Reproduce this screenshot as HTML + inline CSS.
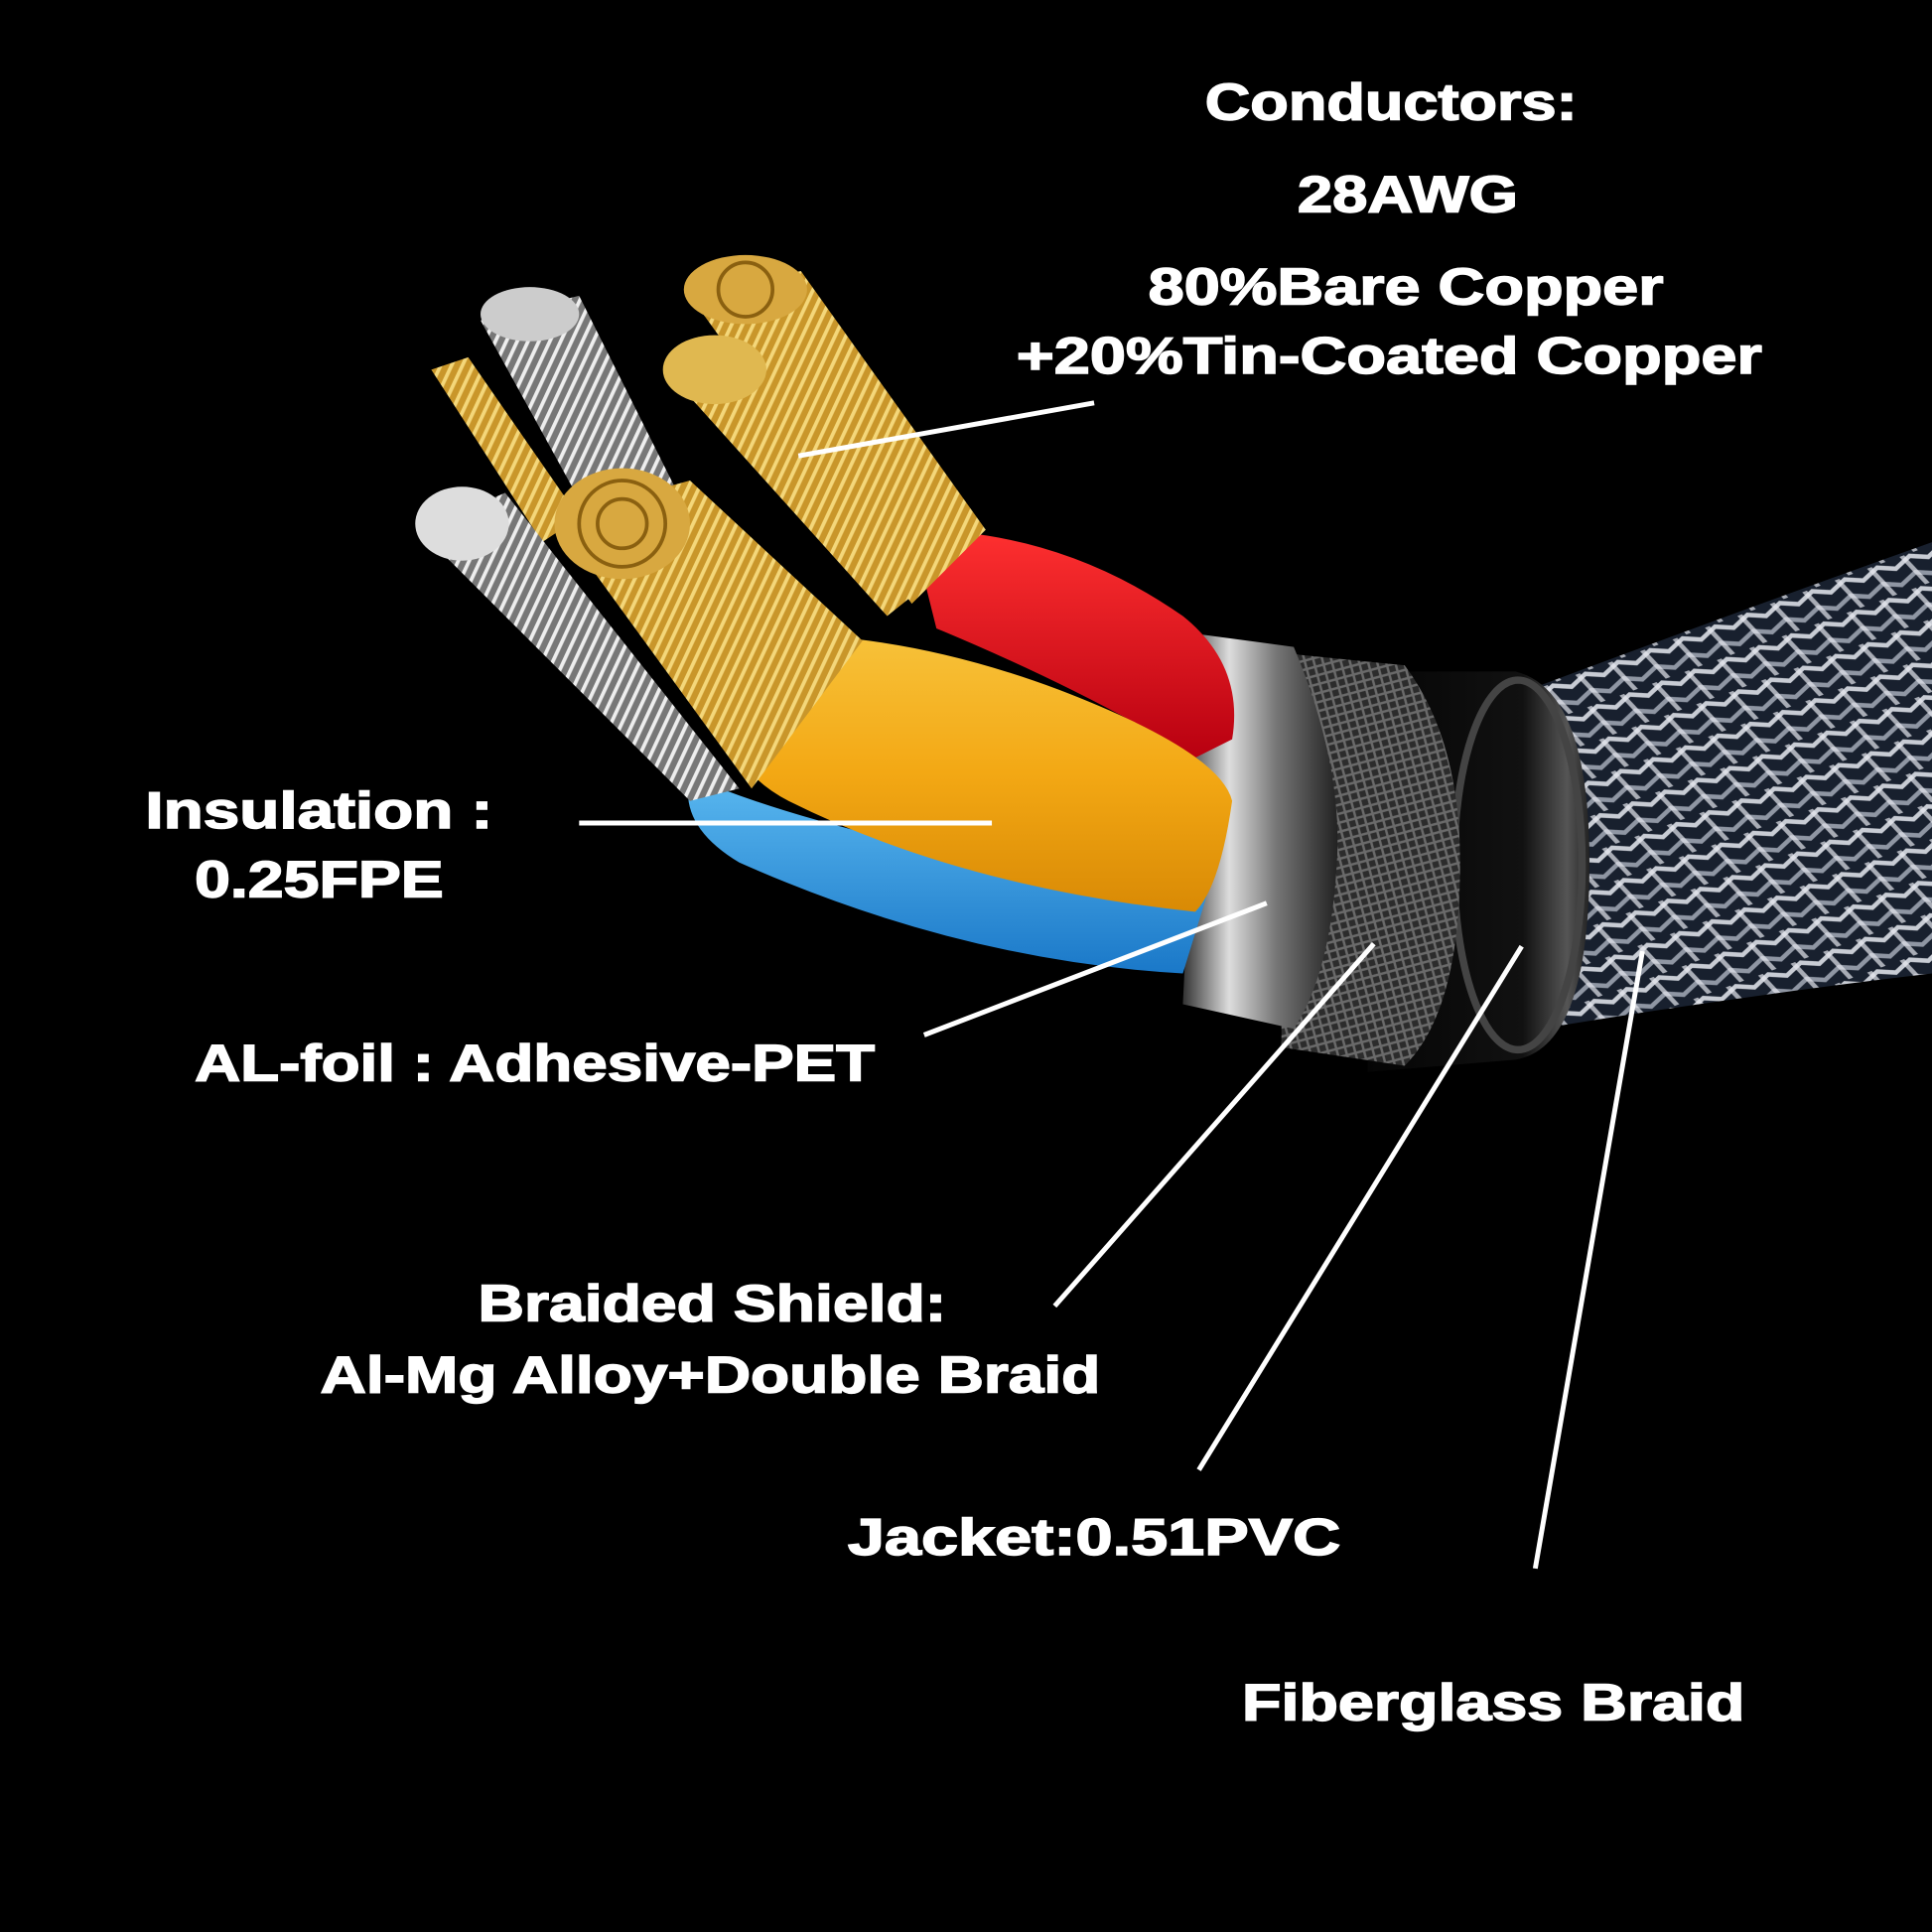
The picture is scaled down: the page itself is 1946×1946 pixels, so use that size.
<!DOCTYPE html>
<html><head><meta charset="utf-8"><style>
html,body{margin:0;padding:0;background:#000;}
svg{display:block;}
text{font-family:"Liberation Sans",Arial,sans-serif;font-weight:bold;fill:#fff;stroke:#fff;stroke-width:1.2px;}
</style></head><body>
<svg width="1946" height="1946" viewBox="0 0 1568 1568" xmlns="http://www.w3.org/2000/svg">
<defs>
<pattern id="braid" width="28" height="28" patternUnits="userSpaceOnUse" patternTransform="rotate(-20)">
<rect width="28" height="28" fill="#18202e"/>
<path d="M0 6 L14 0 L28 6 L28 10 L14 4 L0 10Z" fill="#c8ccd4"/>
<path d="M0 20 L14 14 L28 20 L28 24 L14 18 L0 24Z" fill="#8f96a3"/>
<path d="M6 0 L10 0 L22 28 L18 28Z" fill="#e6e8ee" opacity="0.7"/>
</pattern>
<pattern id="mesh" width="10" height="10" patternUnits="userSpaceOnUse" patternTransform="rotate(30)">
<rect width="10" height="10" fill="#2c2c2c"/>
<path d="M0 0 L10 10 M10 0 L0 10" stroke="#6a6a6a" stroke-width="2"/>
</pattern>
<linearGradient id="foil" x1="0" y1="0" x2="1" y2="0">
<stop offset="0" stop-color="#333"/><stop offset="0.3" stop-color="#ddd"/><stop offset="0.6" stop-color="#777"/><stop offset="1" stop-color="#222"/>
</linearGradient>
<linearGradient id="jack" x1="0" y1="0" x2="1" y2="0">
<stop offset="0" stop-color="#050505"/><stop offset="0.7" stop-color="#111"/><stop offset="0.9" stop-color="#555"/><stop offset="1" stop-color="#222"/>
</linearGradient>
<linearGradient id="orange" x1="0" y1="0" x2="0" y2="1">
<stop offset="0" stop-color="#f7c23a"/><stop offset="0.5" stop-color="#f3a814"/><stop offset="1" stop-color="#d98a05"/>
</linearGradient>
<linearGradient id="red" x1="0" y1="0" x2="0" y2="1">
<stop offset="0" stop-color="#ff3030"/><stop offset="1" stop-color="#b80010"/>
</linearGradient>
<linearGradient id="blue" x1="0" y1="0" x2="0" y2="1">
<stop offset="0" stop-color="#5ab8f0"/><stop offset="1" stop-color="#1a78c8"/>
</linearGradient>
<pattern id="gold" width="8" height="8" patternUnits="userSpaceOnUse" patternTransform="rotate(25)">
<rect width="8" height="8" fill="#c9962a"/><rect width="3" height="8" fill="#f4d77a"/>
</pattern>
<pattern id="silver" width="8" height="8" patternUnits="userSpaceOnUse" patternTransform="rotate(25)">
<rect width="8" height="8" fill="#777"/><rect width="3" height="8" fill="#eee"/>
</pattern>
</defs>
<rect width="1568" height="1568" fill="#000"/>

<path d="M1240 560 Q1400 500 1568 440 L1568 790 Q1400 810 1250 835 Z" fill="url(#braid)"/>
<path d="M1110 545 L1230 545 Q1290 560 1290 700 Q1290 850 1230 860 L1110 870 Z" fill="url(#jack)"/>
<ellipse cx="1232" cy="702" rx="52" ry="150" fill="none" stroke="#444" stroke-width="6"/>
<path d="M1040 530 L1140 540 Q1185 600 1185 700 Q1185 820 1140 865 L1040 850 Z" fill="url(#mesh)"/>
<path d="M975 515 L1050 525 Q1090 620 1085 700 Q1080 790 1050 835 L960 815 Z" fill="url(#foil)"/>

<path d="M740 430 Q860 430 960 500 Q1010 540 1000 600 L970 615 Q880 560 760 510 Z" fill="url(#red)"/>
<path d="M560 630 Q700 690 980 725 L960 790 Q780 780 600 700 Q550 670 560 630Z" fill="url(#blue)"/>
<path d="M560 520 Q700 500 860 560 Q990 610 1000 650 Q990 720 970 740 Q780 720 640 650 Q580 620 560 520Z" fill="url(#orange)"/>

<g>
<path d="M560 240 L650 220 L800 430 L740 490 Z" fill="url(#gold)"/>
<ellipse cx="605" cy="235" rx="50" ry="28" fill="#d8a840"/>
<circle cx="605" cy="235" r="22" fill="none" stroke="#8a6010" stroke-width="3"/>
<path d="M540 300 L620 280 L770 460 L720 500 Z" fill="url(#gold)"/>
<ellipse cx="580" cy="300" rx="42" ry="28" fill="#e0b850"/>
<path d="M390 260 L470 240 L560 420 L500 460 Z" fill="url(#silver)"/>
<ellipse cx="430" cy="255" rx="40" ry="22" fill="#ccc"/>
<path d="M350 300 L380 290 L470 420 L440 440 Z" fill="url(#gold)"/>
<path d="M340 430 L410 400 L600 640 L560 650 Z" fill="url(#silver)"/>
<ellipse cx="375" cy="425" rx="38" ry="30" fill="#ddd"/>
<path d="M450 420 L560 390 L700 520 L610 640 Z" fill="url(#gold)"/>
<ellipse cx="505" cy="425" rx="55" ry="45" fill="#d8a840"/>
<circle cx="505" cy="425" r="35" fill="none" stroke="#8a6010" stroke-width="3"/>
<circle cx="505" cy="425" r="20" fill="none" stroke="#8a6010" stroke-width="3"/>
</g>

<g stroke="#fff" stroke-width="4">
<line x1="648" y1="370" x2="888" y2="327"/>
<line x1="470" y1="668" x2="805" y2="668"/>
<line x1="750" y1="840" x2="1028" y2="733"/>
<line x1="856" y1="1060" x2="1115" y2="766"/>
<line x1="973" y1="1193" x2="1235" y2="768"/>
<line x1="1246" y1="1273" x2="1333" y2="772"/>
</g>

<g font-size="42">
<text x="978" y="97" textLength="302" lengthAdjust="spacingAndGlyphs">Conductors:</text>
<text x="1053" y="172" textLength="179" lengthAdjust="spacingAndGlyphs">28AWG</text>
<text x="932" y="247" textLength="418" lengthAdjust="spacingAndGlyphs">80%Bare Copper</text>
<text x="825" y="303" textLength="605" lengthAdjust="spacingAndGlyphs">+20%Tin-Coated Copper</text>
<text x="118" y="672" textLength="282" lengthAdjust="spacingAndGlyphs">Insulation :</text>
<text x="158" y="728" textLength="202" lengthAdjust="spacingAndGlyphs">0.25FPE</text>
<text x="158" y="877" textLength="552" lengthAdjust="spacingAndGlyphs">AL-foil : Adhesive-PET</text>
<text x="388" y="1072" textLength="380" lengthAdjust="spacingAndGlyphs">Braided Shield:</text>
<text x="260" y="1130" textLength="633" lengthAdjust="spacingAndGlyphs">Al-Mg Alloy+Double Braid</text>
<text x="688" y="1262" textLength="400" lengthAdjust="spacingAndGlyphs">Jacket:0.51PVC</text>
<text x="1008" y="1396" textLength="408" lengthAdjust="spacingAndGlyphs">Fiberglass Braid</text>
</g>
</svg>
</body></html>
